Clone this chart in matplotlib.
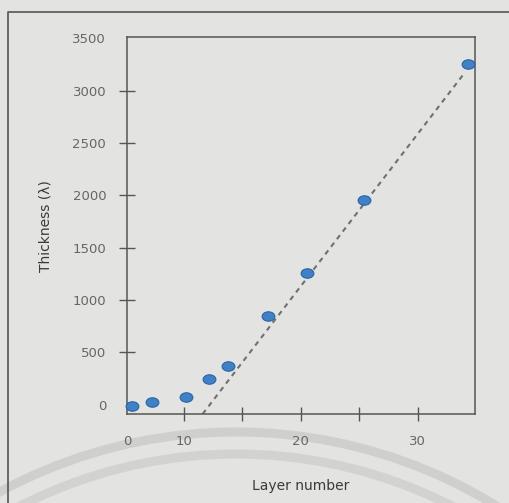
import matplotlib
matplotlib.use("Agg")
import matplotlib.pyplot as plt
from matplotlib.markers import MarkerStyle
from matplotlib.transforms import Affine2D, IdentityTransform
from matplotlib.patches import Arc
from matplotlib.lines import Line2D

BG = "#e3e3e2"
AX_COLOR = "#555555"

# measured layers
layer = [5.6, 7.3, 10.2, 12.1, 13.8, 17.2, 20.5, 25.4, 34.3]
thickness = [-12, 26, 74, 246, 370, 847, 1258, 1956, 3256]

# dashed linear trend (end points)
fit_x = [11.6, 34.0]
fit_y = [-90, 3170]

x_ticks = [10, 15, 20, 25, 30]
x_labels = ["10", "", "20", "", "30"]
y_ticks = [0, 500, 1000, 1500, 2000, 2500, 3000, 3500]

X_MIN, X_MAX = 5.13, 34.87
Y_MIN, Y_MAX = -90, 3510


def main():
    plt.rcParams['font.family'] = ['DejaVu Sans']
    fig = plt.figure(figsize=(5.10, 5.03), dpi=100, facecolor=BG)
    ax = fig.add_axes([0.249, 0.177, 0.682, 0.749], facecolor=BG)

    # faint arcs along the bottom of the page
    for r, c in [(496, "#cfcfce"), (474, "#d2d2d1")]:
        fig.add_artist(Arc((236, -425), 2 * r, 2 * r, theta1=0, theta2=180,
                           transform=IdentityTransform(), color=c,
                           lw=6.5, zorder=0))

    # outer frame (left and top edges)
    fig.add_artist(Line2D([8, 8, 520], [-10, 491, 491],
                          transform=IdentityTransform(), color=AX_COLOR,
                          lw=1.2, zorder=1))

    ax.plot(fit_x, fit_y, linestyle=(0, (2.4, 2.2)), color="#707070",
            lw=1.5, zorder=2, clip_on=True)
    ell = MarkerStyle("o", transform=Affine2D().scale(1.35, 1.0))
    ax.plot(layer, thickness, linestyle="none", marker=ell, markersize=6.8,
            markerfacecolor="#3f80c6", markeredgecolor="#2b64a3",
            markeredgewidth=0.8, zorder=3, clip_on=False)

    ax.set_xlim(X_MIN, X_MAX)
    ax.set_ylim(Y_MIN, Y_MAX)

    # origin labelled 0 at the corner, no tick line there
    ax.set_xticks([X_MIN] + x_ticks)
    ax.set_xticklabels(["0"] + x_labels)
    ax.set_yticks(y_ticks)
    ax.set_yticklabels([str(v) for v in y_ticks])

    ax.tick_params(axis="x", direction="inout", length=10.5, width=1.0,
                   color=AX_COLOR, labelcolor="#666666", labelsize=9.5, pad=10)
    ax.tick_params(axis="y", direction="inout", length=12, width=1.0,
                   color=AX_COLOR, labelcolor="#666666", labelsize=9.5, pad=9)
    ax.xaxis.get_major_ticks()[0].tick1line.set_visible(False)
    yt = ax.yaxis.get_major_ticks()
    yt[0].tick1line.set_visible(False)
    yt[-1].tick1line.set_visible(False)

    for s in ax.spines.values():
        s.set_color(AX_COLOR)
        s.set_linewidth(1.1)

    ax.set_xlabel("Layer number", fontsize=10, color="#3a3a3a", labelpad=22)
    ax.set_ylabel("Thickness (\u03bb)", fontsize=10, color="#3a3a3a",
                  labelpad=14)

    fig.savefig("out.png", dpi=100, facecolor=BG)


if __name__ == "__main__":
    main()
